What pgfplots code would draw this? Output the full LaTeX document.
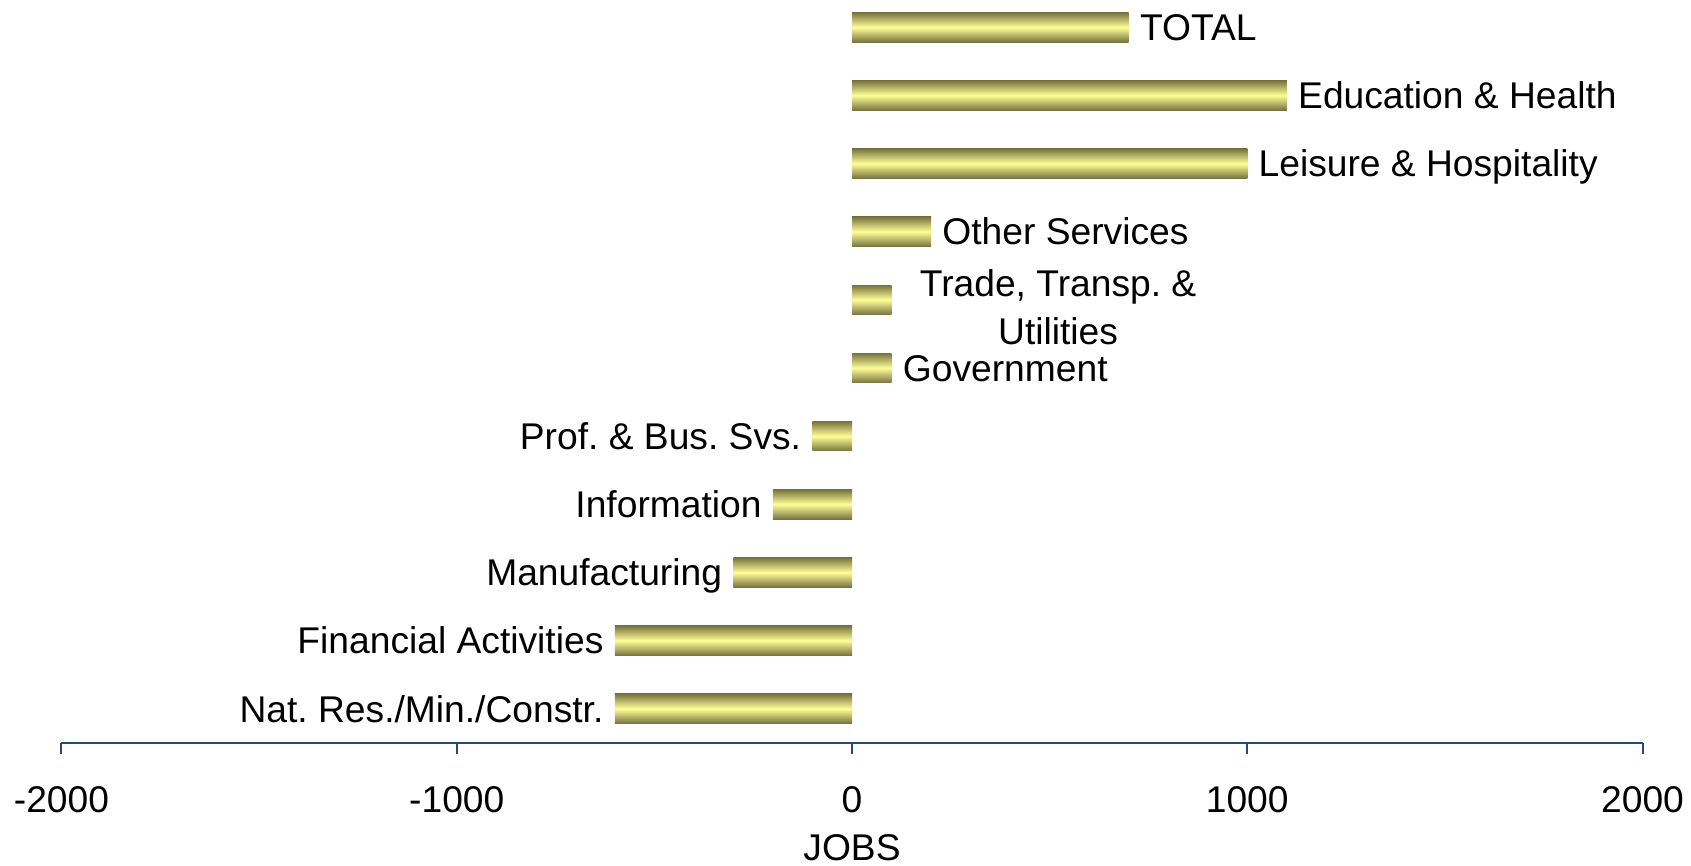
\documentclass[border=0pt]{standalone}
\usepackage{pgfplots}
\pgfplotsset{compat=1.18}
\usepackage{fontspec}
\setmainfont{Liberation Sans}
\frenchspacing
\definecolor{barDark}{RGB}{120,115,64}
\definecolor{barLight}{RGB}{255,255,150}
\definecolor{axisBlue}{RGB}{36,74,128}
\newcommand\lblfont{\fontsize{18.6}{24}\selectfont}
\pgfplotsset{
  mybar/.style={xbar, bar width=14.8pt, bar shift=0pt, draw=none,
    top color=barDark, bottom color=barDark, middle color=barLight,
    nodes near coords, point meta=explicit symbolic,
    every node near coord/.append style={font=\lblfont, text=black, inner xsep=0pt, inner ysep=0pt, text height=13.3pt, text depth=0pt}},
  posbar/.style={mybar, every node near coord/.append style={anchor=west, xshift=5.5pt}},
  negbar/.style={mybar, every node near coord/.append style={anchor=east, xshift=-5.5pt}},
}
\begin{document}
\begin{tikzpicture}
\begin{axis}[
  at={(0,0)}, anchor=south west,
  scale only axis, width=790.5pt, height=371.4pt,
  xmin=-2000, xmax=2000, ymin=-0.5, ymax=10.4,
  axis y line=none,
  axis x line*=bottom,
  x axis line style={axisBlue, line width=1pt},
  xtick={-2000,-1000,0,1000,2000},
  xtick align=outside,
  major tick length=5.5pt,
  x tick style={axisBlue, line width=1pt},
  ytick=\empty,
  /pgf/number format/assume math mode=true,
  /pgf/number format/1000 sep={},
  xticklabel style={font=\lblfont, anchor=north, inner sep=0pt, yshift=-16pt},
  xlabel={JOBS},
  xlabel style={at={(axis description cs:0.5,0)}, anchor=north, inner sep=0pt, yshift=-45.5pt, font=\lblfont},
  clip=false,
]
\addplot[posbar] coordinates {(700,10) [TOTAL]};
\addplot[posbar] coordinates {(1100,9) [Education \& Health]};
\addplot[posbar] coordinates {(1000,8) [Leisure \& Hospitality]};
\addplot[posbar] coordinates {(200,7) [Other Services]};
\addplot[posbar] coordinates {(100,5) [Government]};
\addplot[negbar] coordinates {(-100,4) [Prof. \& Bus. Svs.]};
\addplot[negbar] coordinates {(-200,3) [Information]};
\addplot[negbar] coordinates {(-300,2) [Manufacturing]};
\addplot[negbar] coordinates {(-600,1) [Financial Activities]};
\addplot[negbar] coordinates {(-600,0) [Nat. Res./Min./Constr.]};
\addplot[xbar, bar width=14.8pt, bar shift=0pt, draw=none,
  top color=barDark, bottom color=barDark, middle color=barLight,
  nodes near coords={Trade, Transp. \&\\Utilities},
  nodes near coords align=horizontal,
  every node near coord/.append style={font=\lblfont, text=black, align=center, inner xsep=0pt, inner ysep=0pt, xshift=14pt, yshift=-3.75pt}]
coordinates {(100,6)};
\end{axis}
\pgfresetboundingbox
\useasboundingbox (-30.75pt,-61.6pt) rectangle (814.75pt,371.4pt);
\end{tikzpicture}
\end{document}
